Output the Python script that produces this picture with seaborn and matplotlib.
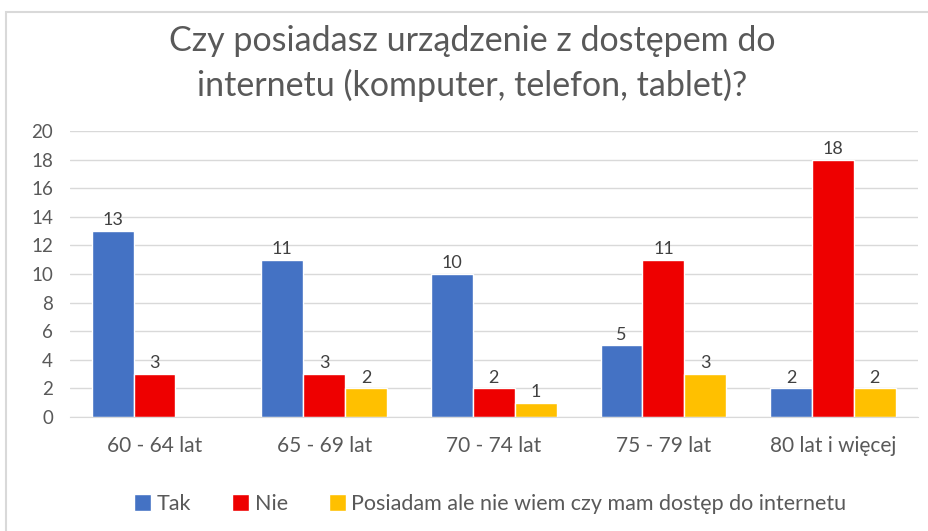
import matplotlib
matplotlib.use("Agg")
import matplotlib.pyplot as plt
import seaborn as sns
import pandas as pd
from matplotlib.patches import Rectangle

categories = ["60 - 64 lat", "65 - 69 lat", "70 - 74 lat", "75 - 79 lat", "80 lat i więcej"]
series = ["Tak", "Nie", "Posiadam ale nie wiem czy mam dostęp do internetu"]
tak = [13, 11, 10, 5, 2]
nie = [3, 3, 2, 11, 18]
posiadam = [0, 2, 1, 3, 2]
colors = ["#4472C4", "#EE0000", "#FFC000"]
title = "Czy posiadasz urządzenie z dostępem do\ninternetu (komputer, telefon, tablet)?"

rows = []
for name, vals in zip(series, [tak, nie, posiadam]):
    for cat, v in zip(categories, vals):
        rows.append({"grupa": cat, "seria": name, "liczba": v})
df = pd.DataFrame(rows)

sns.set_style("white")
plt.rcParams["font.family"] = ["Lato", "DejaVu Sans"]

fig = plt.figure(figsize=(9.29, 5.31), dpi=100)
ax = fig.add_axes([0.075, 0.2147, 0.913, 0.5386])

sns.barplot(data=df, x="grupa", y="liczba", hue="seria", palette=colors,
            width=0.74, gap=0, saturation=1, ax=ax, errorbar=None)

ax.set_ylim(0, 20)
ax.set_yticks(range(0, 21, 2))
ax.grid(axis="y", color="#D9D9D9", linewidth=1)
ax.set_axisbelow(True)
for s in ["top", "right", "left"]:
    ax.spines[s].set_visible(False)
ax.spines["bottom"].set_color("#D9D9D9")
ax.tick_params(axis="both", length=0, colors="#595959")
ax.tick_params(axis="y", pad=12, labelsize=13.5)
ax.tick_params(axis="x", pad=14, labelsize=15)
ax.set_xlabel("")
ax.set_ylabel("")
ax.set_xlim(-0.5, len(categories) - 0.5)

for cont in ax.containers:
    labels = [f"{int(b.get_height())}" if b.get_height() > 0 else "" for b in cont]
    ax.bar_label(cont, labels=labels, padding=2, fontsize=13, color="#404040")

ax.legend(loc="upper center", bbox_to_anchor=(0.496, -0.2), ncol=3, frameon=False,
          fontsize=15.5, handlelength=0.8, handleheight=0.9, handletextpad=0.25,
          columnspacing=1.9, labelcolor="#595959")

fig.text(0.508, 0.88, title, ha="center", va="center", fontsize=24.5,
         color="#595959", linespacing=1.45)

fig.patches.append(Rectangle((0.006, -0.01), 1.0, 0.987, transform=fig.transFigure,
                             fill=False, edgecolor="#D9D9D9", linewidth=1.5))

fig.savefig("out.png", dpi=100)
